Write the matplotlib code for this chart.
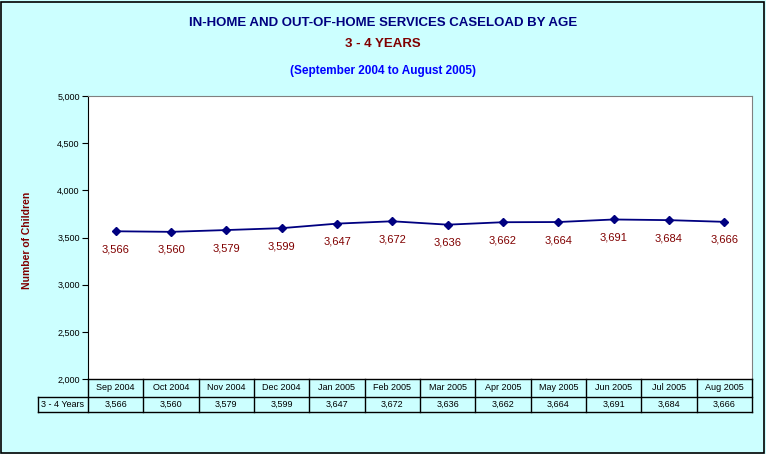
import matplotlib
matplotlib.use("Agg")
import matplotlib.pyplot as plt
from matplotlib.patches import Rectangle
from matplotlib.lines import Line2D

months = ["Sep 2004", "Oct 2004", "Nov 2004", "Dec 2004", "Jan 2005", "Feb 2005",
          "Mar 2005", "Apr 2005", "May 2005", "Jun 2005", "Jul 2005", "Aug 2005"]
values = [3566, 3560, 3579, 3599, 3647, 3672, 3636, 3662, 3664, 3691, 3684, 3666]
series_name = "3 - 4 Years"
yticks = [2000, 2500, 3000, 3500, 4000, 4500, 5000]

W, H = 766, 454
fig = plt.figure(figsize=(W / 100, H / 100), dpi=100)
fig.patch.set_facecolor("#CCFFFF")
fig.patches.append(Rectangle((1 / W, 1 / H), 1 - 3 / W, 1 - 3 / H, transform=fig.transFigure,
                             fill=False, edgecolor="black", linewidth=1.2))

narrow = ["Liberation Sans Narrow", "Liberation Sans", "DejaVu Sans"]
sans = ["Liberation Sans", "DejaVu Sans"]

def fx(px):
    return px / W

def fy(py):
    return 1 - py / H

left, right, top, bottom = 88, 752, 96, 379
ax = fig.add_axes([fx(left), fy(bottom), fx(right - left), fy(top) - fy(bottom)])
ax.set_facecolor("white")
x = list(range(len(months)))
ax.plot(x, values, color="#000080", linewidth=1.3, marker="D", markersize=3.8,
        markerfacecolor="#000080", markeredgecolor="#000080")
for xi, v in zip(x, values):
    ax.annotate(f"{v:,}", (xi, v), xytext=(0, -13), textcoords="offset points",
                ha="center", va="center", color="#800000", fontsize=8, family=sans)
ax.set_xlim(-0.5, len(months) - 0.5)
ax.set_ylim(2000, 5000)
ax.set_yticks(yticks)
ax.set_yticklabels([f"{t:,}" for t in yticks], fontsize=6.5, family=sans)
ax.tick_params(axis="y", length=4, width=0.8, pad=2)
ax.set_xticks([])
for s in ["top", "right"]:
    ax.spines[s].set_color("#808080")
ax.spines["left"].set_color("black")
ax.spines["bottom"].set_visible(False)

# Data table
row1_top, row1_bot, row2_bot = 379, 397, 412
lab_left = 38
cw = (right - left) / len(months)
lines = []
lines.append(Line2D([fx(left), fx(right)], [fy(row1_top)] * 2))
lines.append(Line2D([fx(lab_left), fx(right)], [fy(row1_bot)] * 2))
lines.append(Line2D([fx(lab_left), fx(right)], [fy(row2_bot)] * 2))
lines.append(Line2D([fx(lab_left)] * 2, [fy(row1_bot), fy(row2_bot)]))
for i in range(len(months) + 1):
    xp = left + i * cw
    lines.append(Line2D([fx(xp)] * 2, [fy(row1_top), fy(row2_bot)]))
for ln in lines:
    ln.set_transform(fig.transFigure)
    ln.set_color("black")
    ln.set_linewidth(1.0)
    fig.lines.append(ln)
for i, (m, v) in enumerate(zip(months, values)):
    cx = left + (i + 0.5) * cw
    fig.text(fx(cx), fy((row1_top + row1_bot) / 2), m, ha="center", va="center",
             fontsize=6.5, family=sans)
    fig.text(fx(cx), fy((row1_bot + row2_bot) / 2), f"{v:,}", ha="center", va="center",
             fontsize=6.5, family=sans)
fig.text(fx((lab_left + left) / 2), fy((row1_bot + row2_bot) / 2), series_name,
         ha="center", va="center", fontsize=6.5, family=sans)

# Titles
fig.text(0.5, fy(23), "IN-HOME AND OUT-OF-HOME SERVICES CASELOAD BY AGE", ha="center",
         va="center", fontsize=9.5, fontweight="bold", color="#000080", family=narrow)
fig.text(0.5, fy(44), "3 - 4 YEARS", ha="center", va="center", fontsize=9.5,
         fontweight="bold", color="#800000", family=narrow)
fig.text(0.5, fy(71), "(September 2004 to August 2005)", ha="center", va="center",
         fontsize=8.5, fontweight="bold", color="#0000FF", family=narrow)
fig.text(fx(27), fy(240), "Number of Children", ha="center", va="center", rotation=90,
         fontsize=7.5, fontweight="bold", color="#800000", family=narrow)

fig.savefig("out.png", dpi=100, facecolor=fig.get_facecolor())
